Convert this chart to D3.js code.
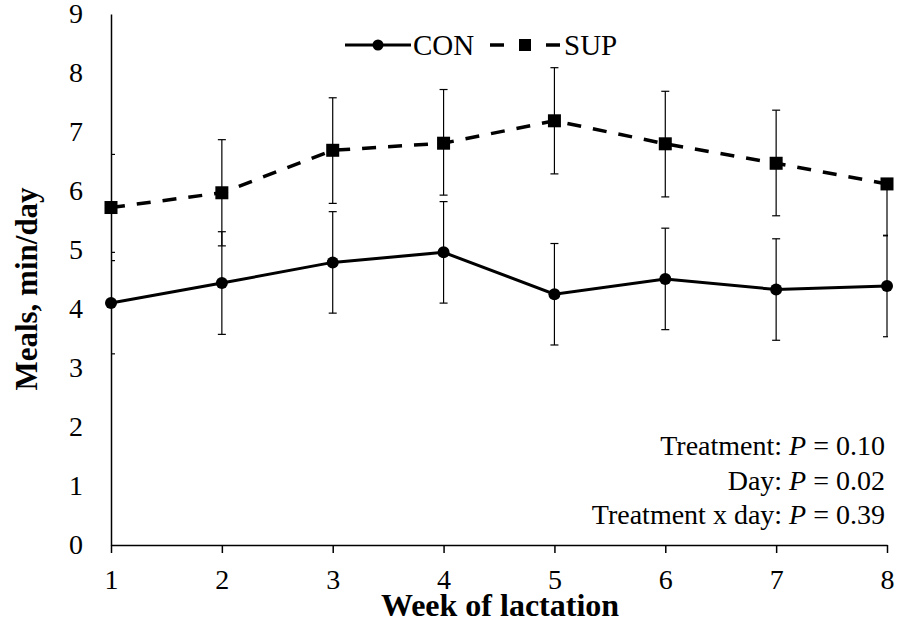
<!DOCTYPE html>
<html>
<head>
<meta charset="utf-8">
<title>Meals, min/day by week of lactation</title>
<style>
    body { margin: 0; background: white; }
    svg text { font-family: "Liberation Serif", "Times New Roman", serif; fill: black; }
</style>
<script src="https://cdn.jsdelivr.net/npm/d3@7/dist/d3.min.js"></script>
</head>
<body>
<div id="chart"></div>
<script>
    // data
    var weeks = [1, 2, 3, 4, 5, 6, 7, 8];
    var con = [4.10, 4.44, 4.79, 4.96, 4.25, 4.51, 4.33, 4.39];
    var conSE = [0.86, 0.87, 0.86, 0.86, 0.86, 0.86, 0.86, 0.86];
    var sup = [5.72, 5.97, 6.69, 6.81, 7.19, 6.80, 6.47, 6.12];
    var supSEup = [0.90, 0.90, 0.89, 0.91, 0.90, 0.89, 0.90, null];
    var supSEdown = [0.90, 0.90, 0.90, 0.88, 0.90, 0.90, 0.89, 0.88];
    var yTicks = [0, 1, 2, 3, 4, 5, 6, 7, 8, 9];
    var stats = ['Treatment: ', 'Day: ', 'Treatment x day: '];
    var pValues = ['0.10', '0.02', '0.39'];

    var width = 899, height = 644;
    var plotLeft = 111, plotRight = 887, plotTop = 14, plotBottom = 545;

    var svg = d3.select('#chart')
            .append('svg')
            .attr('width', width)
            .attr('height', height);

    var x = d3.scaleLinear().domain([1, 8]).range([plotLeft, plotRight]);
    var y = d3.scaleLinear().domain([0, 9]).range([plotBottom, plotTop]);

    svg.append('defs').append('clipPath')
            .attr('id', 'plotclip')
        .append('rect')
            .attr('x', plotLeft)
            .attr('y', 0)
            .attr('width', plotRight - plotLeft + 1)
            .attr('height', plotBottom);

    // error bars
    var bars = svg.append('g')
            .attr('clip-path', 'url(#plotclip)')
            .attr('stroke', 'black')
            .attr('stroke-width', 1.2);

    function errorBars(vals, up, down) {
        vals.forEach(function(v, i) {
            var cx = x(weeks[i]);
            var ends = [];
            if (up[i] != null) ends.push(v + up[i]);
            if (down[i] != null) ends.push(v - down[i]);
            ends.forEach(function(e) {
                bars.append('line')
                        .attr('x1', cx).attr('x2', cx)
                        .attr('y1', y(v)).attr('y2', y(e));
                bars.append('line')
                        .attr('x1', cx - 4).attr('x2', cx + 4)
                        .attr('y1', y(e)).attr('y2', y(e));
            });
        });
    }
    errorBars(con, conSE, conSE);
    errorBars(sup, supSEup, supSEdown);

    // axes
    var yAxis = d3.axisLeft(y).tickValues(yTicks).tickSize(0).tickPadding(28);
    var gy = svg.append('g')
            .attr('transform', 'translate(' + plotLeft + ',0)')
            .call(yAxis);
    gy.select('.domain').attr('stroke', 'black').attr('stroke-width', 1.5);
    gy.selectAll('text')
            .attr('font-size', 28)
            .style('font-family', '"Liberation Serif", serif');

    var xAxis = d3.axisBottom(x).tickValues(weeks).tickFormat(d3.format('d'))
            .tickSize(8).tickSizeOuter(0).tickPadding(16);
    var gx = svg.append('g')
            .attr('transform', 'translate(0,' + plotBottom + ')')
            .call(xAxis);
    gx.select('.domain').attr('stroke', 'black').attr('stroke-width', 1.5);
    gx.selectAll('.tick line').attr('stroke', 'black').attr('stroke-width', 1.5);
    gx.selectAll('text')
            .attr('font-size', 28)
            .style('font-family', '"Liberation Serif", serif');

    // lines
    var line = d3.line()
            .x(function(d, i) { return x(weeks[i]); })
            .y(function(d) { return y(d); });

    svg.append('path')
            .datum(con)
            .attr('d', line)
            .attr('fill', 'none')
            .attr('stroke', 'black')
            .attr('stroke-width', 3);

    svg.append('path')
            .datum(sup)
            .attr('d', line)
            .attr('fill', 'none')
            .attr('stroke', 'black')
            .attr('stroke-width', 3.5)
            .attr('stroke-dasharray', '14,12');

    svg.selectAll('circle.con')
            .data(con)
        .enter().append('circle')
            .attr('class', 'con')
            .attr('cx', function(d, i) { return x(weeks[i]); })
            .attr('cy', function(d) { return y(d); })
            .attr('r', 6);

    svg.selectAll('rect.sup')
            .data(sup)
        .enter().append('rect')
            .attr('class', 'sup')
            .attr('x', function(d, i) { return x(weeks[i]) - 6.5; })
            .attr('y', function(d) { return y(d) - 6.5; })
            .attr('width', 13)
            .attr('height', 13);

    // legend
    var lg = svg.append('g').attr('transform', 'translate(0,45)');
    lg.append('line').attr('x1', 345).attr('x2', 411).attr('y1', 0).attr('y2', 0)
            .attr('stroke', 'black').attr('stroke-width', 3);
    lg.append('circle').attr('cx', 378).attr('cy', 0).attr('r', 5.5);
    lg.append('text').attr('x', 413).attr('y', 10).attr('font-size', 29).text('CON');
    lg.append('line').attr('x1', 490).attr('x2', 504).attr('y1', 0).attr('y2', 0)
            .attr('stroke', 'black').attr('stroke-width', 3.5);
    lg.append('line').attr('x1', 546).attr('x2', 560).attr('y1', 0).attr('y2', 0)
            .attr('stroke', 'black').attr('stroke-width', 3.5);
    lg.append('rect').attr('x', 519).attr('y', -6).attr('width', 12).attr('height', 12);
    lg.append('text').attr('x', 564).attr('y', 10).attr('font-size', 29).text('SUP');

    // axis titles
    svg.append('text')
            .attr('transform', 'translate(37,289) rotate(-90)')
            .attr('text-anchor', 'middle')
            .attr('font-size', 31)
            .attr('font-weight', 'bold')
            .text('Meals, min/day');

    svg.append('text')
            .attr('x', 500)
            .attr('y', 616)
            .attr('text-anchor', 'middle')
            .attr('font-size', 32)
            .attr('font-weight', 'bold')
            .text('Week of lactation');

    // statistics
    stats.forEach(function(s, i) {
        var t = svg.append('text')
                .attr('x', 885)
                .attr('y', 455 + i * 34.5)
                .attr('text-anchor', 'end')
                .attr('font-size', 28);
        t.append('tspan').text(s);
        t.append('tspan').attr('font-style', 'italic').text('P');
        t.append('tspan').text(' = ' + pValues[i]);
    });
</script>
</body>
</html>
